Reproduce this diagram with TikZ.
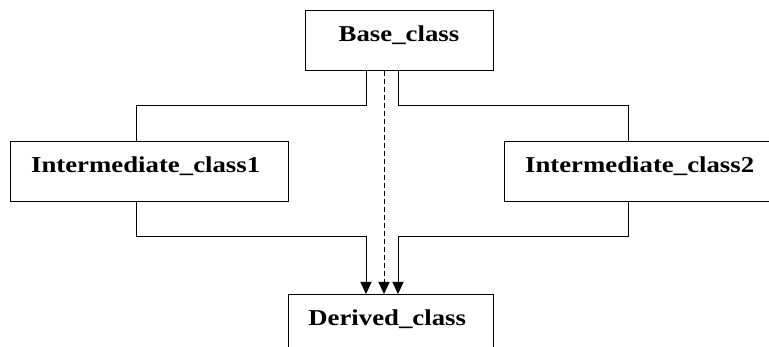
\documentclass[tikz,border=0pt]{standalone}
\usepackage{fontspec}
\setmainfont{Liberation Serif}[FakeStretch=1.18]
\usepackage{tikz}
\usetikzlibrary{positioning,arrows.meta}
\tikzset{
    classbox/.style={
        draw,
        rectangle,
        line width=1pt,
        inner sep=0pt,
        text height=31.5pt,
        text depth=28.5pt,
        align=center,
        font=\fontsize{22.7pt}{26pt}\selectfont\bfseries
    },
    link/.style={
        line width=1pt
    },
    inherit/.style={
        link,
        -{Triangle[width=11pt,length=12pt]}
    }
}

\begin{document}
\begin{tikzpicture}
        \useasboundingbox (0,0) rectangle (769pt,-347pt);
        \clip (0,0) rectangle (769pt,-347pt);
        \node[classbox,minimum width=188pt] (Base) at (399pt,-40.5pt) {Base\_class};

            \node[classbox,minimum width=278pt,below left=70pt and 16pt of Base] (Intermediate1) {
                    Intermediate\_class1
                };

            \node[classbox,minimum width=278pt,below right=70pt and 10pt of Base] (Intermediate2) {
                    Intermediate\_class2
                };

                \node[classbox,minimum width=205pt,below=223pt of Base,xshift=-8.5pt] (Derived) {
                        Derived\_class
                    };
                        \draw[link] ([xshift=-33pt]Base.south) -- ++(0,-35pt) -| ([xshift=-13pt]Intermediate1.north);
                        \draw[link] ([xshift=-1pt]Base.south) -- ++(0,-35pt) -| ([xshift=-15pt]Intermediate2.north);
                        \draw[inherit] ([xshift=-13pt]Intermediate1.south) -- ++(0,-35pt) -| ([xshift=-24.5pt]Derived.north);
                        \draw[inherit] ([xshift=-15pt]Intermediate2.south) -- ++(0,-35pt) -| ([xshift=7.5pt]Derived.north);
                        \draw[inherit,dash pattern=on 5pt off 3pt] ([xshift=-15pt]Base.south) -- ([xshift=-6.5pt]Derived.north);
    \end{tikzpicture}
\end{document}
